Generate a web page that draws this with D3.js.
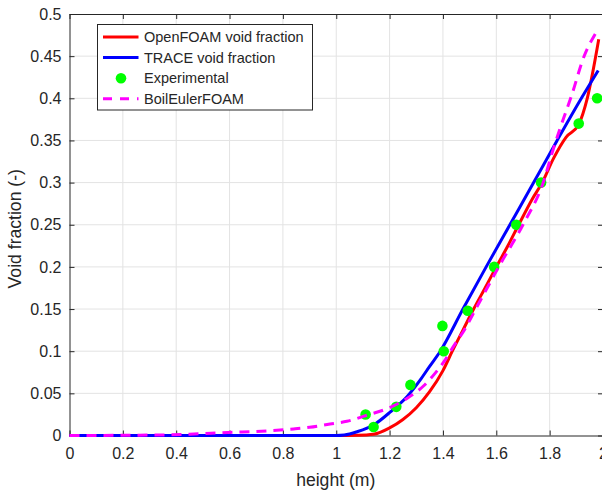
<!DOCTYPE html>
<html>
<head>
<meta charset="utf-8">
<script src="https://cdn.jsdelivr.net/npm/d3@7"></script>
<style>
  html, body { margin: 0; padding: 0; background: #fff; }
  svg { display: block; font-family: "Liberation Sans", Arial, Helvetica, sans-serif; }
</style>
</head>
<body>
<svg id="chart" width="602" height="491"></svg>
<script>
// Axis ticks and labels
const xTicks = [0, 0.2, 0.4, 0.6, 0.8, 1, 1.2, 1.4, 1.6, 1.8, 2];
const xTickLabels = ["0", "0.2", "0.4", "0.6", "0.8", "1", "1.2", "1.4", "1.6", "1.8", "2"];
const yTicks = [0, 0.05, 0.1, 0.15, 0.2, 0.25, 0.3, 0.35, 0.4, 0.45, 0.5];
const yTickLabels = ["0", "0.05", "0.1", "0.15", "0.2", "0.25", "0.3", "0.35", "0.4", "0.45", "0.5"];

// OpenFOAM void fraction
const openfoamHeight = [0, 1.0, 1.08, 1.14, 1.2, 1.25, 1.3, 1.35, 1.4, 1.435, 1.475, 1.515, 1.558, 1.6, 1.64, 1.684, 1.734, 1.772, 1.815, 1.862, 1.909, 1.941, 1.984];
const openfoamVoid   = [0, 0, 0.0003, 0.0015, 0.009, 0.019, 0.033, 0.052, 0.077, 0.1, 0.125, 0.15, 0.175, 0.2, 0.223, 0.25, 0.28, 0.3, 0.329, 0.354, 0.369, 0.4, 0.47];

// TRACE void fraction
const traceHeight = [0, 1.0, 1.03, 1.078, 1.14, 1.203, 1.265, 1.315, 1.35, 1.39, 1.475, 1.562, 1.651, 1.74, 1.828, 1.915, 1.982];
const traceVoid   = [0, 0, 0.0006, 0.0045, 0.0125, 0.028, 0.046, 0.066, 0.082, 0.1, 0.15, 0.2, 0.25, 0.3, 0.35, 0.398, 0.433];

// Experimental measurements
const expHeight = [1.11, 1.14, 1.225, 1.278, 1.398, 1.403, 1.493, 1.592, 1.675, 1.768, 1.909, 1.978];
const expVoid   = [0.025, 0.01, 0.034, 0.06, 0.13, 0.1, 0.148, 0.2, 0.25, 0.3, 0.37, 0.4];

// BoilEulerFOAM void fraction
const boilHeight = [0, 0.3, 0.45, 0.53, 0.615, 0.69, 0.765, 0.84, 0.9, 0.977, 1.04, 1.115, 1.2, 1.265, 1.328, 1.371, 1.409, 1.44, 1.478, 1.528, 1.609, 1.7, 1.778, 1.809, 1.841, 1.884, 1.928, 1.972];
const boilVoid   = [0, 0.0005, 0.0015, 0.0026, 0.0038, 0.0047, 0.006, 0.0078, 0.0097, 0.0136, 0.0168, 0.024, 0.033, 0.044, 0.059, 0.074, 0.09, 0.106, 0.124, 0.153, 0.2, 0.25, 0.302, 0.335, 0.366, 0.405, 0.449, 0.477];

const svg = d3.select("#chart");
const plotLeft = 69.5, plotRight = 603, plotTop = 14, plotBottom = 435.5;
const axisColor = "#262626";

const x = d3.scaleLinear().domain([0, 2]).range([plotLeft, plotRight]);
const y = d3.scaleLinear().domain([0, 0.5]).range([plotBottom, plotTop]);

// Grid
const grid = svg.append("g").attr("stroke", "#e3e3e3").attr("stroke-width", 1);
grid.selectAll("line.gx").data(xTicks.slice(1, -1)).join("line")
  .attr("x1", d => x(d)).attr("x2", d => x(d)).attr("y1", plotTop).attr("y2", plotBottom);
grid.selectAll("line.gy").data(yTicks.slice(1, -1)).join("line")
  .attr("x1", plotLeft).attr("x2", plotRight).attr("y1", d => y(d)).attr("y2", d => y(d));

// Axes with inward ticks on all four sides
const fmtX = d => xTickLabels[xTicks.indexOf(d)];
const fmtY = d => yTickLabels[yTicks.indexOf(d)];
const tick = 5;

const gx = svg.append("g").attr("transform", `translate(0,${plotBottom})`)
  .call(d3.axisBottom(x).tickValues(xTicks).tickFormat(fmtX).tickSizeInner(-tick).tickSizeOuter(0).tickPadding(12));
const gxTop = svg.append("g").attr("transform", `translate(0,${plotTop})`)
  .call(d3.axisTop(x).tickValues(xTicks).tickFormat("").tickSizeInner(-tick).tickSizeOuter(0));
const gy = svg.append("g").attr("transform", `translate(${plotLeft},0)`)
  .call(d3.axisLeft(y).tickValues(yTicks).tickFormat(fmtY).tickSizeInner(-tick).tickSizeOuter(0).tickPadding(8));
const gyRight = svg.append("g").attr("transform", `translate(${plotRight},0)`)
  .call(d3.axisRight(y).tickValues(yTicks).tickFormat("").tickSizeInner(-tick).tickSizeOuter(0));

[gx, gxTop, gy, gyRight].forEach(g => {
  g.select(".domain").attr("stroke", axisColor).attr("stroke-width", 1);
  g.selectAll(".tick line").attr("stroke", axisColor).attr("stroke-width", 1);
  g.selectAll(".tick text").attr("fill", axisColor).attr("font-size", 16)
    .attr("font-family", "'Liberation Sans', Arial, sans-serif");
});

// Axis titles
svg.append("text").attr("x", (plotLeft + plotRight) / 2 - 0.5).attr("y", 486)
  .attr("text-anchor", "middle").attr("fill", axisColor).attr("font-size", 17.6)
  .text("height (m)");
svg.append("text").attr("transform", `translate(21,${(plotTop + plotBottom) / 2 + 4}) rotate(-90)`)
  .attr("text-anchor", "middle").attr("fill", axisColor).attr("font-size", 17.6)
  .text("Void fraction (-)");

// Series
const lineGen = d3.line().x(d => x(d[0])).y(d => y(d[1])).curve(d3.curveMonotoneX);
const zip = (a, b) => a.map((v, i) => [v, b[i]]);

const plot = svg.append("g");
plot.append("path").datum(zip(openfoamHeight, openfoamVoid))
  .attr("d", lineGen).attr("fill", "none").attr("stroke", "#ff0000").attr("stroke-width", 3)
  .attr("stroke-linejoin", "round");
plot.append("path").datum(zip(traceHeight, traceVoid))
  .attr("d", lineGen).attr("fill", "none").attr("stroke", "#0000ff").attr("stroke-width", 3)
  .attr("stroke-linejoin", "round");
plot.selectAll("circle.exp").data(zip(expHeight, expVoid)).join("circle")
  .attr("cx", d => x(d[0])).attr("cy", d => y(d[1])).attr("r", 5.3).attr("fill", "#00ff00");
plot.append("path").datum(zip(boilHeight, boilVoid))
  .attr("d", lineGen).attr("fill", "none").attr("stroke", "#ff00ff").attr("stroke-width", 3)
  .attr("stroke-dasharray", "10,7");

// Legend
const legend = svg.append("g");
legend.append("rect").attr("x", 97.5).attr("y", 24.5).attr("width", 215).attr("height", 85.5)
  .attr("fill", "#fff").attr("stroke", axisColor).attr("stroke-width", 1);
const items = [
  { label: "OpenFOAM void fraction", color: "#ff0000", type: "line" },
  { label: "TRACE void fraction", color: "#0000ff", type: "line" },
  { label: "Experimental", color: "#00ff00", type: "marker" },
  { label: "BoilEulerFOAM", color: "#ff00ff", type: "dash" }
];
items.forEach((it, i) => {
  const cy = 37 + i * 20.6;
  if (it.type === "marker") {
    legend.append("circle").attr("cx", 121).attr("cy", cy).attr("r", 5.3).attr("fill", it.color);
  } else {
    legend.append("line").attr("x1", 103).attr("x2", 138.5).attr("y1", cy).attr("y2", cy)
      .attr("stroke", it.color).attr("stroke-width", 3)
      .attr("stroke-dasharray", it.type === "dash" ? "9,8" : null);
  }
  legend.append("text").attr("x", 144).attr("y", cy + 5).attr("fill", axisColor)
    .attr("font-size", 14.5).text(it.label);
});
</script>
</body>
</html>
